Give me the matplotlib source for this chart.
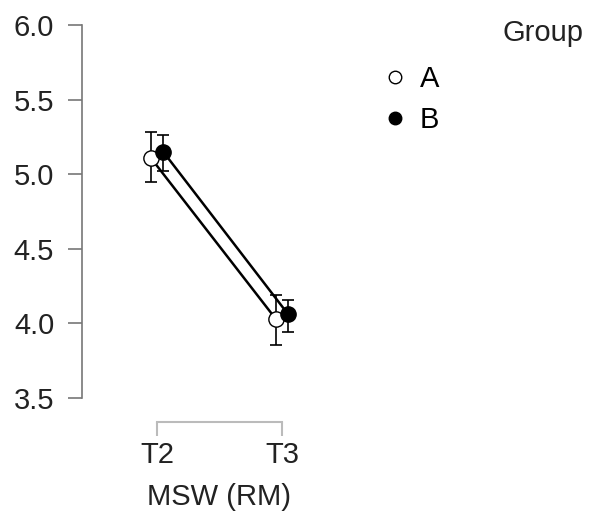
import matplotlib.pyplot as plt
from matplotlib.lines import Line2D
import numpy as np

plt.rcParams["font.family"] = ["Liberation Sans", "DejaVu Sans"]

times = ["T2", "T3"]
groups = ["A", "B"]
mean_a = [5.11, 4.03]
low_a = [4.95, 3.855]
high_a = [5.28, 4.19]
mean_b = [5.15, 4.06]
low_b = [5.02, 3.94]
high_b = [5.26, 4.16]

fs = 21

fig = plt.figure(figsize=(5.91, 5.30), dpi=100)
ax = fig.add_axes([82 / 591, 132 / 530, 275 / 591, 373 / 530])

x = np.arange(len(times))
series = [
    (mean_a, low_a, high_a, "white", -0.05),
    (mean_b, low_b, high_b, "black", 0.05),
]
for m, lo, hi, fc, dx in series:
    m = np.array(m)
    yerr = [m - np.array(lo), np.array(hi) - m]
    ax.plot(x + dx, m, color="black", lw=1.8, zorder=2)
    ax.errorbar(x + dx, m, yerr=yerr, fmt="none", ecolor="black",
                elinewidth=1.2, capsize=4.5, capthick=1.2, zorder=3)
    ax.plot(x + dx, m, "o", ms=11, mfc=fc, mec="black", mew=1.0, zorder=4)

ax.set_xlim(-0.6, 1.6)
ax.set_ylim(3.5, 6.0)
ax.set_yticks([3.5, 4.0, 4.5, 5.0, 5.5, 6.0])
ax.set_yticklabels(["3.5", "4.0", "4.5", "5.0", "5.5", "6.0"])
ax.set_xticks(x)
ax.set_xticklabels(times)

for s in ["top", "right"]:
    ax.spines[s].set_visible(False)
ax.spines["left"].set_color("#777777")
ax.spines["left"].set_linewidth(1.2)
ax.spines["bottom"].set_color("#bbbbbb")
ax.spines["bottom"].set_linewidth(1.5)
ax.spines["bottom"].set_position(("outward", 17))
ax.spines["bottom"].set_bounds(0, 1)

ax.tick_params(axis="y", length=10, width=1.2, color="#777777", pad=10,
               labelsize=fs, labelcolor="#222222")
ax.tick_params(axis="x", length=10, width=1.5, color="#bbbbbb", pad=4,
               labelsize=fs, labelcolor="#222222")
ax.set_xlabel("MSW (RM)", fontsize=fs, color="#222222", labelpad=10)

handles = [
    Line2D([], [], ls="none", marker="o", ms=9, mfc="white", mec="black", mew=1.0),
    Line2D([], [], ls="none", marker="o", ms=9, mfc="black", mec="black", mew=1.0),
]
fig.legend(handles, groups, loc="upper left", bbox_to_anchor=(383 / 591, 1 - 65 / 530),
           frameon=False, fontsize=fs, handlelength=0.8, handletextpad=0.45,
           labelspacing=0.45, borderaxespad=0, borderpad=0)
fig.text(584 / 591, 1 - 33 / 530, "Group", ha="right", va="center",
         fontsize=fs, color="#222222")

fig.savefig("out.png", dpi=100)
